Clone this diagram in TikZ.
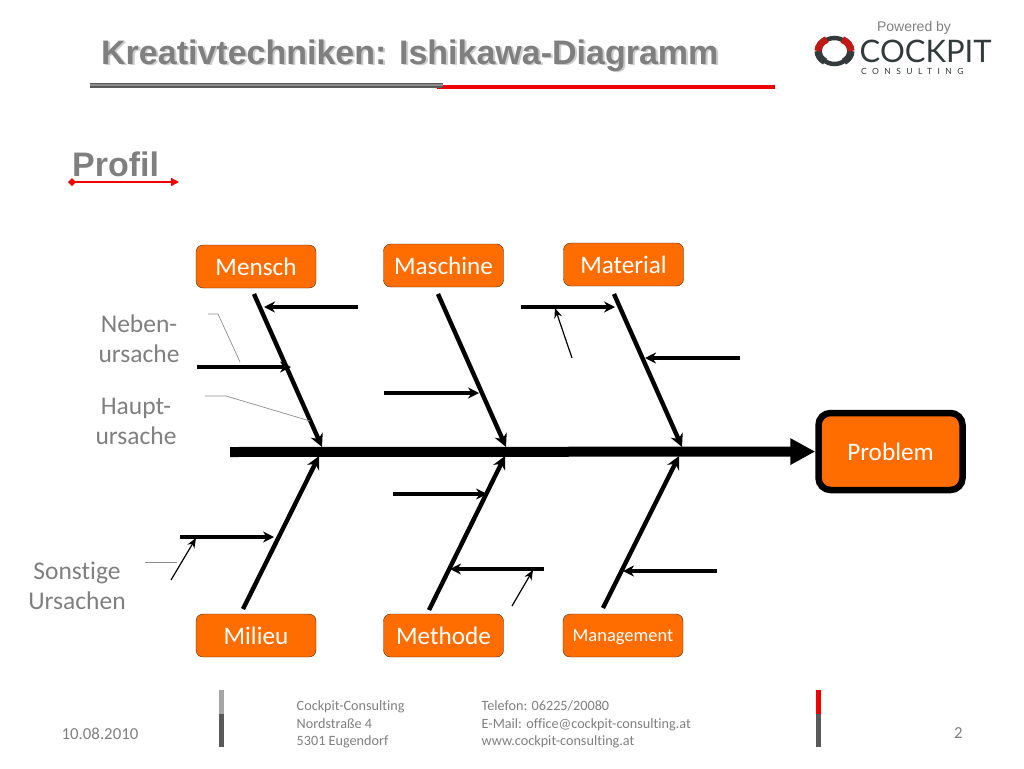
\documentclass[tikz,border=0pt]{standalone}
\usepackage{fontspec}
\setmainfont[Ligatures=CommonOff]{Carlito}
\newfontfamily\headfont{Liberation Sans}
\newfontfamily\logofont{Lato}
\newfontfamily\logospaced[LetterSpace=64]{Lato}
\usepackage{xcolor}
\definecolor{BoxOrange}{RGB}{255,108,0}
\definecolor{BoxBorder}{RGB}{70,40,20}
\definecolor{TextGray}{RGB}{127,127,127}
\definecolor{ShadowGray}{RGB}{205,205,205}
\definecolor{LineGray}{RGB}{140,140,140}
\definecolor{BarLight}{RGB}{166,166,166}
\definecolor{BarDark}{RGB}{89,89,89}
\definecolor{LogoDark}{RGB}{50,58,60}
\definecolor{LogoRed}{RGB}{190,25,20}
\definecolor{RuleRed}{RGB}{240,0,0}
\usetikzlibrary{arrows.meta, positioning}
\tikzset{
  % Cause boxes
  causebox/.style={
    rectangle, rounded corners=7pt,
    draw=BoxBorder, fill=BoxOrange, text=white,
    minimum width=120pt, minimum height=43pt,
    inner sep=0pt, font=\fontsize{25.2}{25.2}\selectfont
  },
  problembox/.style={
    causebox, draw=black, line width=6.5pt, rounded corners=12pt,
    minimum width=144pt, minimum height=77pt
  },
  % Gray labels
  sidelabel/.style={text=TextGray, align=center, inner sep=0pt, font=\fontsize{25.5}{30}\selectfont},
  footlabel/.style={text=TextGray, align=left, anchor=west, inner sep=0pt, font=\fontsize{14.2}{17.5}\selectfont},
  % Headings
  headlabel/.style={text=TextGray, anchor=base west, inner sep=0pt, font=\headfont\bfseries\fontsize{34}{34}\selectfont},
  headshadow/.style={headlabel, text=ShadowGray},
  % Arrows
  spine/.style={-{Triangle[length=25pt,width=25pt]}, line width=10pt},
  bone/.style={-{Stealth[length=13pt,width=13pt]}, line width=4.4pt},
  twig/.style={-{Stealth[length=11pt,width=11pt]}, line width=3.2pt},
  thinarr/.style={-{Stealth[length=10pt,width=8pt]}, line width=1.2pt},
  callout/.style={LineGray, line width=0.7pt},
  footbar/.style={line width=5pt},
  logoarc/.style={line width=7pt, x radius=16.5, y radius=13},
}

\begin{document}
\begin{tikzpicture}[x=1pt,y=-1pt]
  \useasboundingbox (0,0) rectangle (1024,768);

  % Title and rules
  \node[headshadow] (titleshadow) at (103,66) {Kreativtechniken: Ishikawa-Diagramm};
  \node[headlabel] (title) at (101,64) {Kreativtechniken: Ishikawa-Diagramm};
  \coordinate (ruleredstart) at (437,86.5);
  \coordinate (ruleredend) at (775,86.5);
  \coordinate (rulegraystart) at (90,85);
  \coordinate (rulegrayend) at (443,85);
  \draw[RuleRed, line width=4pt] (ruleredstart) -- (ruleredend);
  \draw[BarDark, line width=5pt] (rulegraystart) -- (rulegrayend);
  \draw[LineGray, line width=2pt] (rulegraystart) -- (rulegrayend);
  \node[headlabel] (profil) at (72,176) {Profil};
  \coordinate (profilstart) at (68,182);
  \coordinate (profilend) at (179,182);
  \draw[RuleRed, line width=1.4pt, {Diamond[length=8pt,width=8pt]}-{Triangle[length=8pt,width=8pt]}] (profilstart) -- (profilend);

  % Logo
  \node[text=TextGray, inner sep=0pt, font=\headfont\fontsize{14}{14}\selectfont] (powered) at (914,27.5) {Powered by};
  \coordinate (logocentre) at (834.5,51);
  \coordinate (logoleft) at (818,51);
  \coordinate (logoright) at (851,51);
  \draw[LogoDark, line width=4.5pt] (logocentre) ellipse [x radius=15, y radius=13];
  \draw[logoarc, LogoDark] (logoleft) arc[start angle=180, end angle=125];
  \draw[logoarc, LogoDark] (logoright) arc[start angle=0, end angle=55];
  \draw[logoarc, LogoRed] (logoleft) arc[start angle=-180, end angle=-118];
  \draw[logoarc, LogoRed] (logoright) arc[start angle=0, end angle=-62];
  \node[text=LogoDark, inner sep=0pt, anchor=west, font=\logofont\fontsize{31}{31}\selectfont] (cockpit) at (859.5,51.5) {COCKPIT};
  \node[text=LogoDark, inner sep=0pt, anchor=west, font=\logospaced\fontsize{8.5}{8.5}\selectfont] (consulting) at (861,71) {CONSULTING};

  % Boxes
  \node[causebox] (mensch) at (256,266.5) {Mensch};
  \node[causebox] (maschine) at (443.5,265.5) {Maschine};
  \node[causebox] (material) at (623.5,264.5) {Material};
  \node[causebox] (milieu) at (256,635.5) {Milieu};
  \node[causebox] (methode) at (443.5,635.5) {Methode};
  \node[causebox, text depth=0pt, font=\fontsize{18.5}{18.5}\selectfont] (management) at (623,635.5) {Management};
  \node[problembox] (problem) at (890.5,451.5) {Problem};

  % Spine
  \coordinate (spinestart) at (230,452);
  \draw[spine] (spinestart) -- (problem);

  % Main bones
  \coordinate (menschtop) at (254,294);
  \coordinate (menschend) at (322,447);
  \coordinate (maschinetop) at (438,294);
  \coordinate (maschineend) at (506,447);
  \coordinate (materialtop) at (614,294);
  \coordinate (materialend) at (682,447);
  \coordinate (milieutop) at (243,609);
  \coordinate (milieuend) at (319,456);
  \coordinate (methodetop) at (429,610);
  \coordinate (methodeend) at (505,456);
  \coordinate (managementtop) at (603,608);
  \coordinate (managementend) at (679,456);
  \draw[bone] (menschtop) -- (menschend);
  \draw[bone] (maschinetop) -- (maschineend);
  \draw[bone] (materialtop) -- (materialend);
  \draw[bone] (milieutop) -- (milieuend);
  \draw[bone] (methodetop) -- (methodeend);
  \draw[bone] (managementtop) -- (managementend);

  % Side causes
  \coordinate (twigastart) at (358,307);
  \coordinate (twigaend) at (264,307);
  \coordinate (twigbstart) at (197,367);
  \coordinate (twigbend) at (291,367);
  \coordinate (twigcstart) at (384,393);
  \coordinate (twigcend) at (479,393);
  \coordinate (twigdstart) at (521,307);
  \coordinate (twigdend) at (615,307);
  \coordinate (twigestart) at (740,358);
  \coordinate (twigeend) at (645,358);
  \coordinate (twigfstart) at (393,494);
  \coordinate (twigfend) at (487,494);
  \coordinate (twiggstart) at (180,537);
  \coordinate (twiggend) at (274,537);
  \coordinate (twighstart) at (544,569);
  \coordinate (twighend) at (450,569);
  \coordinate (twigistart) at (717,571);
  \coordinate (twigiend) at (623,571);
  \draw[twig] (twigastart) -- (twigaend);
  \draw[twig] (twigbstart) -- (twigbend);
  \draw[twig] (twigcstart) -- (twigcend);
  \draw[twig] (twigdstart) -- (twigdend);
  \draw[twig] (twigestart) -- (twigeend);
  \draw[twig] (twigfstart) -- (twigfend);
  \draw[twig] (twiggstart) -- (twiggend);
  \draw[twig] (twighstart) -- (twighend);
  \draw[twig] (twigistart) -- (twigiend);

  % Thin arrows
  \coordinate (thinastart) at (572,358);
  \coordinate (thinaend) at (555,308);
  \coordinate (thinbstart) at (171,580);
  \coordinate (thinbend) at (196,538);
  \coordinate (thincstart) at (512,606);
  \coordinate (thincend) at (533,570);
  \draw[thinarr] (thinastart) -- (thinaend);
  \draw[thinarr] (thinbstart) -- (thinbend);
  \draw[thinarr] (thincstart) -- (thincend);

  % Side labels with callouts
  \node[sidelabel] (neben) at (139,339) {Neben-\\ursache};
  \node[sidelabel] (haupt) at (136,421) {Haupt-\\ursache};
  \node[sidelabel] (sonstige) at (77,586) {Sonstige\\Ursachen};
  \coordinate (calloutastart) at (208,314);
  \coordinate (calloutamid) at (218,314);
  \coordinate (calloutaend) at (240,362);
  \coordinate (calloutbstart) at (205,396);
  \coordinate (calloutbmid) at (226,396);
  \coordinate (calloutbend) at (310,421);
  \coordinate (calloutcstart) at (145,562);
  \coordinate (calloutcend) at (177,562);
  \draw[callout] (calloutastart) -- (calloutamid) -- (calloutaend);
  \draw[callout] (calloutbstart) -- (calloutbmid) -- (calloutbend);
  \draw[callout] (calloutcstart) -- (calloutcend);

  % Footer
  \node[footlabel, font=\fontsize{16.8}{16.8}\selectfont] (date) at (61.5,733.5) {10.08.2010};
  \node[footlabel] (address) at (296.5,724.5) {Cockpit-Consulting\\Nordstraße 4\\5301 Eugendorf};
  \node[footlabel] (contact) at (481.5,724.5) {Telefon: 06225/20080\\E-Mail: office@cockpit-consulting.at\\www.cockpit-consulting.at};
  \node[footlabel, font=\fontsize{16.8}{16.8}\selectfont] (pagenum) at (954,733.5) {2};
  \coordinate (baratop) at (221.5,690);
  \coordinate (baramid) at (221.5,714);
  \coordinate (baraend) at (221.5,747);
  \coordinate (barbtop) at (818,690);
  \coordinate (barbmid) at (818,714);
  \coordinate (barbend) at (818,747);
  \draw[footbar, BarLight] (baratop) -- (baramid);
  \draw[footbar, BarDark] (baramid) -- (baraend);
  \draw[footbar, RuleRed] (barbtop) -- (barbmid);
  \draw[footbar, BarDark] (barbmid) -- (barbend);
\end{tikzpicture}
\end{document}
